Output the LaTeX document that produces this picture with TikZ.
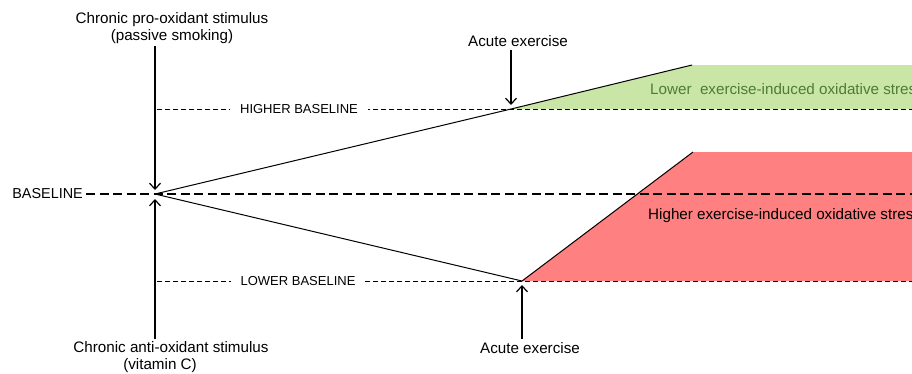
\documentclass[tikz,border=0pt]{standalone}
\usepackage{fontspec}
\setmainfont{Liberation Sans}
\usetikzlibrary{arrows.meta}
\definecolor{greenfill}{HTML}{C9E6A7}
\definecolor{greentext}{HTML}{4F7B36}
\definecolor{redfill}{HTML}{FF8080}
\begin{document}
\begin{tikzpicture}[x=1pt,y=-1pt,
  lbl/.style={font=\fontsize{15.2}{17}\selectfont, inner sep=0pt, align=center},
  smalllbl/.style={font=\fontsize{13}{15}\selectfont, fill=white, inner sep=0pt, minimum height=8pt, inner xsep=10pt},
  thindash/.style={dash pattern=on 5pt off 3pt, line width=0.8pt},
  basedash/.style={dash pattern=on 9pt off 4.5pt, line width=1.6pt},
  arr/.style={-{Straight Barb[length=6pt,width=11pt]}, line width=1.2pt},
  solidline/.style={line width=1pt, line join=miter}]
\useasboundingbox (0,0) rectangle (912,373);
% key points
\coordinate (O) at (155,194);
\coordinate (H) at (511,109);
\coordinate (Ht) at (692,65);
\coordinate (L) at (522,281);
\coordinate (Lt) at (693,152);
\coordinate (hstart) at (157,109);
\coordinate (hend) at (912,109);
\coordinate (lstart) at (157,281);
\coordinate (lend) at (912,281);
\coordinate (bend) at (912,194);
\coordinate (gtr) at (912,65);
\coordinate (rtr) at (912,152);
% fills
\fill[greenfill] (H) -- (Ht) -- (gtr) -- (hend) -- cycle;
\fill[redfill] (L) -- (Lt) -- (rtr) -- (lend) -- cycle;
% region texts
\node[lbl, anchor=west, text=greentext] (lowtxt) at (650,89) {Lower\ \ exercise-induced oxidative stress};
\node[lbl, anchor=west] (hightxt) at (648,216) {Higher exercise-induced oxidative stress};
% labels
\node[lbl] (pro) at (172,28) {Chronic pro-oxidant stimulus\\(passive smoking)};
\node[lbl] (anti) at (171,357) {Chronic anti-oxidant stimulus\\\hspace*{-22pt}(vitamin C)};
\node[lbl] (ae1) at (518,41) {Acute exercise};
\node[lbl] (ae2) at (530,348) {Acute exercise};
\node[lbl, font=\fontsize{14.4}{17}\selectfont, anchor=east] (base) at (83,194) {BASELINE};
% thin dashed baselines
\draw[thindash] (hstart) -- (hend);
\draw[thindash] (lstart) -- (lend);
\node[smalllbl] (hb) at (299,109) {HIGHER BASELINE};
\node[smalllbl] (lb) at (298,281) {LOWER BASELINE};
% main baseline
\draw[basedash] (base.east) ++(3,0) -- (bend);
% trajectories
\draw[solidline] (O) -- (H) -- (Ht);
\draw[solidline] (O) -- (L) -- (Lt);
% arrows
\draw[arr, shorten >=4pt] (pro.south -| O) ++(0,2) -- (O);
\draw[arr, shorten >=5pt] (anti.north -| O) ++(0,-2) -- (O);
\draw[arr, shorten >=4pt] (ae1.south -| H) ++(0,3) -- (H);
\draw[arr, shorten >=4pt] (ae2.north -| L) ++(0,-3) -- (L);
\end{tikzpicture}
\end{document}
